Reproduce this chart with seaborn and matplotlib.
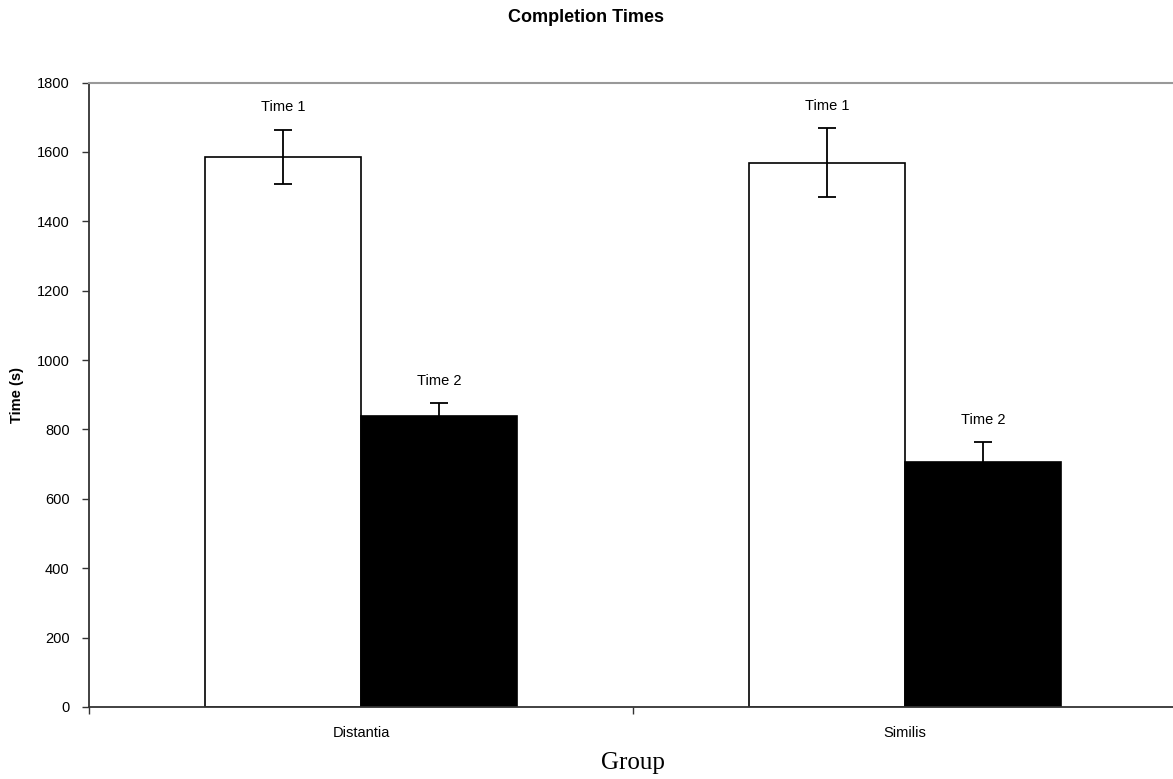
import numpy as np
import pandas as pd
import seaborn as sns
from matplotlib import pyplot as plt

# values
groups = ['Distantia', 'Similis']
times = ['Time 1', 'Time 2']
time1_mean = [1586, 1569]
time2_mean = [839, 706]
time1_err = [78, 99]
time2_err = [38, 57]
yticks = [0, 200, 400, 600, 800, 1000, 1200, 1400, 1600, 1800]

data = pd.DataFrame({
    'Group': groups * 2,
    'Time': [times[0]] * 2 + [times[1]] * 2,
    'Mean': time1_mean + time2_mean,
    'Err': time1_err + time2_err,
})

sns.set_style('white')
plt.rcParams['font.family'] = ['Liberation Sans', 'DejaVu Sans']
plt.rcParams['text.color'] = 'black'
plt.rcParams['axes.labelcolor'] = 'black'
plt.rcParams['xtick.color'] = 'black'
plt.rcParams['ytick.color'] = 'black'

fig = plt.figure(figsize=(11.73, 7.79), dpi=100)
ax = fig.add_axes([89 / 1173, 72 / 779, 1088 / 1173, 624.5 / 779])

sns.barplot(data=data, x='Group', y='Mean', hue='Time', hue_order=times,
            palette=['white', 'black'], edgecolor='black', linewidth=1.2,
            width=0.574, errorbar=None, legend=False, ax=ax)

# error bars + labels, positioned from the bars seaborn drew
for i, t in enumerate(times):
    sub = data[data['Time'] == t]
    cont = ax.containers[i]
    for bar, (_, row) in zip(cont, sub.iterrows()):
        xc = bar.get_x() + bar.get_width() / 2
        ax.errorbar(xc, row['Mean'], yerr=row['Err'], fmt='none', ecolor='black',
                    elinewidth=1.3, capsize=6.5, capthick=1.3, zorder=3)
        ax.annotate(t, (xc, row['Mean'] + row['Err']), xytext=(0, 16),
                    textcoords='offset points', ha='center', va='center', fontsize=10.5)

ax.set_xlim(-0.5, 1.5)
ax.set_ylim(0, 1800)
ax.set_yticks(yticks)
ax.set_xticks([0, 1])
ax.set_xticklabels(groups)
ax.set_xticks([-0.5, 0.5, 1.5], minor=True)
ax.tick_params(axis='x', which='major', bottom=False, length=0, pad=14, labelsize=10.5)
ax.tick_params(axis='x', which='minor', bottom=True, length=5, width=1, color='#333333', direction='out')
ax.tick_params(axis='y', left=True, length=5, width=1, color='#333333', direction='out',
               labelsize=10.5, pad=9)

for side in ['left', 'bottom']:
    ax.spines[side].set_color('#333333')
    ax.spines[side].set_linewidth(1.3)
ax.spines['top'].set_color('#999999')
ax.spines['top'].set_linewidth(1.5)
ax.spines['right'].set_visible(False)

ax.set_ylabel('Time (s)', fontsize=10.5, fontweight='bold', labelpad=9)
ax.set_xlabel('Group', fontsize=18, family=['Liberation Serif'], labelpad=8)
fig.text(0.5, 1 - 18 / 779, 'Completion Times', ha='center', va='center',
         fontsize=13, fontweight='bold')

fig.savefig('out.png', dpi=100)
